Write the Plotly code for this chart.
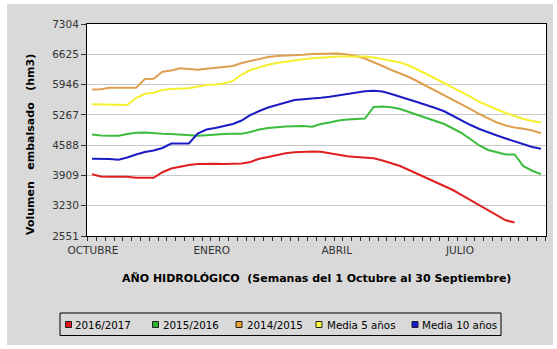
import plotly.graph_objects as go

# ---------------- data ----------------
weeks = list(range(1, 53))
s_2016_2017 = [3934, 3885, 3880, 3880, 3880, 3858, 3851, 3856, 3980, 4064,
               4102, 4143, 4165, 4172, 4170, 4165, 4165, 4176, 4210, 4284,
               4322, 4367, 4405, 4427, 4438, 4445, 4438, 4405, 4367, 4338,
               4322, 4315, 4293, 4243, 4187, 4120, 4030, 3941, 3844, 3761,
               3682, 3582, 3470, 3358, 3235, 3134, 3022, 2903, 2854]
s_2015_2016 = [4827, 4804, 4800, 4800, 4838, 4867, 4871, 4849, 4842, 4838,
               4827, 4804, 4797, 4809, 4827, 4838, 4842, 4844, 4883, 4939,
               4973, 4995, 5004, 5011, 5017, 5002, 5062, 5095, 5140, 5163,
               5178, 5185, 5443, 5454, 5436, 5398, 5331, 5264, 5197, 5129,
               5062, 4961, 4856, 4721, 4580, 4479, 4423, 4378, 4378, 4117,
               4014, 3939]
s_2014_2015 = [5835, 5840, 5876, 5876, 5876, 5876, 6071, 6078, 6235, 6262,
               6311, 6289, 6280, 6302, 6320, 6333, 6362, 6430, 6479, 6519,
               6564, 6586, 6591, 6597, 6613, 6631, 6638, 6647, 6642, 6620,
               6586, 6530, 6452, 6362, 6272, 6200, 6116, 6015, 5914, 5813,
               5712, 5611, 5510, 5398, 5286, 5185, 5095, 5028, 4983, 4956,
               4916, 4853]
media_5 = [5504, 5499, 5493, 5477, 5488, 5645, 5740, 5764, 5824, 5847,
           5858, 5863, 5903, 5937, 5948, 5971, 6027, 6172, 6273, 6340,
           6390, 6430, 6463, 6493, 6515, 6535, 6553, 6564, 6575, 6575,
           6575, 6573, 6553, 6519, 6486, 6441, 6374, 6284, 6183, 6082,
           5982, 5869, 5768, 5668, 5556, 5466, 5388, 5309, 5242, 5174,
           5129, 5096]
media_10 = [4284, 4284, 4277, 4262, 4311, 4378, 4434, 4468, 4524, 4625,
            4625, 4625, 4849, 4939, 4972, 5017, 5062, 5140, 5264, 5354,
            5432, 5488, 5544, 5600, 5616, 5629, 5649, 5672, 5701, 5739,
            5775, 5797, 5806, 5790, 5734, 5678, 5611, 5548, 5488, 5421,
            5347, 5241, 5129, 5039, 4950, 4871, 4804, 4737, 4670, 4602,
            4546, 4508]

series_names = ["2016/2017", "2015/2016", "2014/2015", "Media 5 años", "Media 10 años"]
series_values = [s_2016_2017, s_2015_2016, s_2014_2015, media_5, media_10]
line_colors = ["#e02020", "#3cbc3c", "#dea050", "#f4f030", "#1c1cc4"]
legend_colors = ["#e01818", "#30b030", "#f0a030", "#ffff40", "#1818d0"]

y_ticks = [2551, 3230, 3909, 4588, 5267, 5946, 6625, 7304]
x_label_pos = [1.1, 14.6, 28.8, 42.8]
x_label_text = ["OCTUBRE", "ENERO", "ABRIL", "JULIO"]
x_week_bounds = [w + 0.5 for w in range(0, 53)]

# ---------------- geometry helpers (pixel -> paper) ----------------
W, H = 557, 349
L, R, T, B = 87, 546, 24, 236
def px(x):
    return (x - L) / (R - L)
def py(y):
    return (B - y) / (B - T)

FONT = "DejaVu Sans"

fig = go.Figure()
for name, vals, col in zip(series_names, series_values, line_colors):
    fig.add_trace(go.Scatter(x=weeks[:len(vals)], y=vals, mode="lines", name=name,
                             line=dict(color=col, width=2), showlegend=False))

shapes = [
    dict(type="rect", xref="paper", yref="paper", x0=px(7), x1=px(553), y0=py(345), y1=py(4),
         fillcolor="#d9d9d9", line=dict(width=0), layer="below"),
    dict(type="rect", xref="paper", yref="paper", x0=0, x1=1, y0=0, y1=1,
         fillcolor="white", line=dict(width=0), layer="below"),
    # legend box
    dict(type="rect", xref="paper", yref="paper", x0=px(60), x1=px(501), y0=py(335.5), y1=py(313),
         fillcolor="rgba(0,0,0,0)", line=dict(color="black", width=1), layer="above"),
]
annotations = []
sq_x = [65.5, 152.5, 236, 316, 412]
tx_x = [73, 160.5, 244.5, 324.5, 420]
for i, name in enumerate(series_names):
    shapes.append(dict(type="rect", xref="paper", yref="paper",
                       x0=px(sq_x[i]), x1=px(sq_x[i] + 6), y0=py(327.5), y1=py(321.5),
                       fillcolor=legend_colors[i], line=dict(color="#202020", width=1), layer="above"))
    annotations.append(dict(text=name, xref="paper", yref="paper", x=px(tx_x[i]), y=py(324.5),
                            xanchor="left", yanchor="middle", showarrow=False,
                            font=dict(family=FONT, size=10.3, color="black")))

annotations.append(dict(text="<b>Volumen\u00a0\u00a0\u00a0embalsado\u00a0\u00a0\u00a0(hm3)</b>",
                        xref="paper", yref="paper", x=px(30), y=py(145), textangle=-90,
                        xanchor="center", yanchor="middle", showarrow=False,
                        font=dict(family=FONT, size=11, color="black")))
annotations.append(dict(text="<b>AÑO HIDROLÓGICO\u00a0\u00a0(Semanas del 1 Octubre al 30 Septiembre)</b>",
                        xref="paper", yref="paper", x=px(316), y=py(278),
                        xanchor="center", yanchor="middle", showarrow=False,
                        font=dict(family=FONT, size=11, color="black")))

fig.update_layout(
    width=W, height=H,
    margin=dict(l=L, r=W - R, t=T, b=H - B),
    paper_bgcolor="white", plot_bgcolor="white",
    shapes=shapes, annotations=annotations,
    showlegend=False,
    xaxis=dict(range=[0.43, 52.57], tickmode="array", tickvals=x_label_pos, ticktext=x_label_text,
               ticks="", showgrid=False, zeroline=False,
               showline=True, linecolor="black", linewidth=1, mirror=True,
               tickfont=dict(family=FONT, size=10.5, color="#333333"),
               ticklabelstandoff=4,
               minor=dict(tickmode="array", tickvals=x_week_bounds, ticks="outside",
                          ticklen=4, tickcolor="#333333", tickwidth=1, showgrid=False)),
    yaxis=dict(range=[2551, 7304], tickmode="array", tickvals=y_ticks,
               ticktext=[str(v) for v in y_ticks],
               ticks="outside", ticklen=5, tickcolor="#333333",
               showgrid=True, gridcolor="#c8c8c8", gridwidth=1, zeroline=False,
               showline=True, linecolor="black", linewidth=1, mirror=True,
               tickfont=dict(family=FONT, size=10.5, color="#333333")),
)

fig.write_html("out.html")
